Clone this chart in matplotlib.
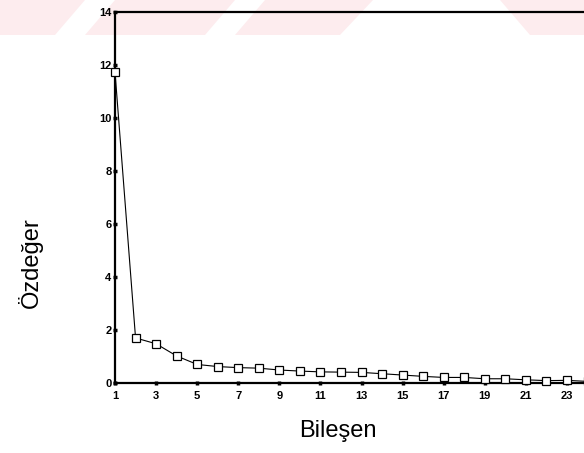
import matplotlib
matplotlib.use("Agg")
import matplotlib.pyplot as plt
from matplotlib.patches import Polygon, Rectangle

# scree plot values (eigenvalue per component)
components = list(range(1, 25))
eigenvalues = [11.74, 1.70, 1.48, 1.02, 0.70, 0.62, 0.58, 0.56, 0.49, 0.45,
               0.42, 0.41, 0.40, 0.35, 0.30, 0.25, 0.21, 0.21, 0.16, 0.16,
               0.12, 0.09, 0.10, 0.06]
xticks = list(range(1, 24, 2))
yticks = list(range(0, 15, 2))

plt.rcParams['font.family'] = ['Liberation Sans', 'DejaVu Sans']

W, H = 584, 453
fig = plt.figure(figsize=(W / 100, H / 100), dpi=100)

# faint pink watermark band at the top of the scan
def px(x, y):
    return (x / W, 1 - y / H)

fig.patches.append(Rectangle(px(0, 35), 1, 35 / H, transform=fig.transFigure,
                             facecolor='#fdecee', edgecolor='none', zorder=-2))
for poly in [[(55, 35), (85, 35), (115, 0), (85, 0)],
             [(205, 35), (235, 35), (265, 0), (235, 0)],
             [(340, 35), (530, 35), (500, 0), (373, 0)]]:
    fig.patches.append(Polygon([px(*p) for p in poly], closed=True,
                               transform=fig.transFigure, facecolor='white',
                               edgecolor='none', zorder=-1))

ax = fig.add_axes([115 / W, (H - 383) / H, (W - 115) / W, (383 - 12) / H])
ax.patch.set_alpha(0)

ax.plot(components, eigenvalues, color='black', linewidth=0.8,
        marker='s', markersize=5.3, markerfacecolor='white',
        markeredgecolor='black', markeredgewidth=0.9, clip_on=False, zorder=3)

ax.set_xlim(1, 1 + (W - 115) / 20.545)
ax.set_ylim(0, 14)
ax.set_xticks(xticks)
ax.set_yticks(yticks)

for side in ['left', 'bottom', 'top']:
    ax.spines[side].set_linewidth(1.6)
ax.spines['right'].set_visible(False)

ax.tick_params(axis='both', direction='inout', length=3, width=2.5,
               labelsize=8, colors='black')
ax.tick_params(axis='y', pad=1)
ax.tick_params(axis='x', pad=4)
for lab in ax.get_xticklabels() + ax.get_yticklabels():
    lab.set_fontweight('bold')

ax.set_xlabel('Bileşen', fontsize=17)
ax.set_ylabel('Özdeğer', fontsize=17)
ax.xaxis.set_label_coords((338 - 115) / 469, (383 - 431) / 371)
ax.yaxis.set_label_coords((30 - 115) / 469, (383 - 263) / 371)
ax.xaxis.label.set_va('center')
ax.yaxis.label.set_va('center')

fig.savefig('out.png', dpi=100)
